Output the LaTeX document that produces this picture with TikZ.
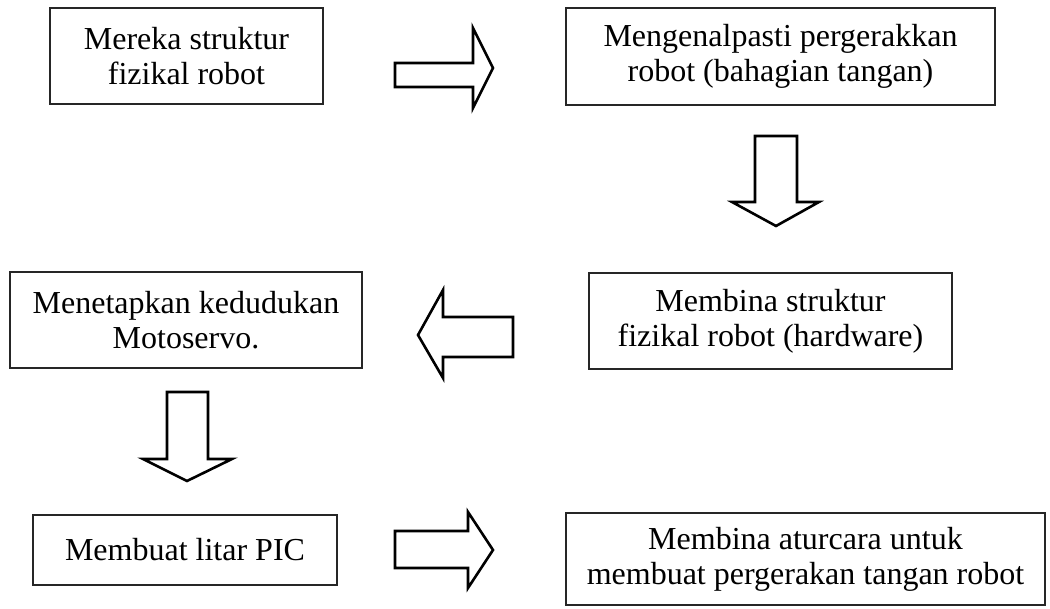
\documentclass[tikz,border=0pt]{standalone}
\usepackage{fontspec}
\setmainfont{Liberation Serif}
\begin{document}
\begin{tikzpicture}[x=1pt,y=-1pt,
  stepbox/.style={draw=black!85,line width=2pt,align=center,inner sep=0pt,
    font=\fontsize{32}{35}\selectfont},
  blockarrow/.style={draw=black,line width=2.6pt,line join=miter,fill=white}]
\path[use as bounding box] (0,0) rectangle (1050,609);
\node[stepbox,minimum width=273pt,minimum height=96pt] (b1) at (186.5,56) {Mereka struktur\\fizikal robot};
\node[stepbox,minimum width=429pt,minimum height=97pt] (b2) at (780.5,56.5) {Mengenalpasti pergerakkan\\robot (bahagian tangan)};
\node[stepbox,minimum width=363pt,minimum height=96pt] (b3) at (770.5,321) {Membina struktur\\fizikal robot (hardware)};
\node[stepbox,minimum width=352pt,minimum height=96pt] (b4) at (186,320) {Menetapkan kedudukan\\Motoservo.};
\node[stepbox,minimum width=304pt,minimum height=70pt] (b5) at (185,550) {Membuat litar PIC};
\node[stepbox,minimum width=479pt,minimum height=92pt] (b6) at (805.5,559) {Membina aturcara untuk\\membuat pergerakan tangan robot};
% block arrows
\draw[blockarrow] (395,63) -- (473,63) -- (473,28) -- (493,68) -- (473,108) -- (473,87) -- (395,87) -- cycle;
\draw[blockarrow] (755,136) -- (797,136) -- (797,202) -- (819,202) -- (776,226) -- (732,202) -- (755,202) -- cycle;
\draw[blockarrow] (513,317) -- (443,317) -- (443,290) -- (418,335) -- (443,378) -- (443,357) -- (513,357) -- cycle;
\draw[blockarrow] (167,392) -- (208,392) -- (208,459) -- (232,459) -- (187,481) -- (143,459) -- (167,459) -- cycle;
\draw[blockarrow] (395,531) -- (468,531) -- (468,512) -- (493,550) -- (468,588) -- (468,568) -- (395,568) -- cycle;
\end{tikzpicture}
\end{document}
